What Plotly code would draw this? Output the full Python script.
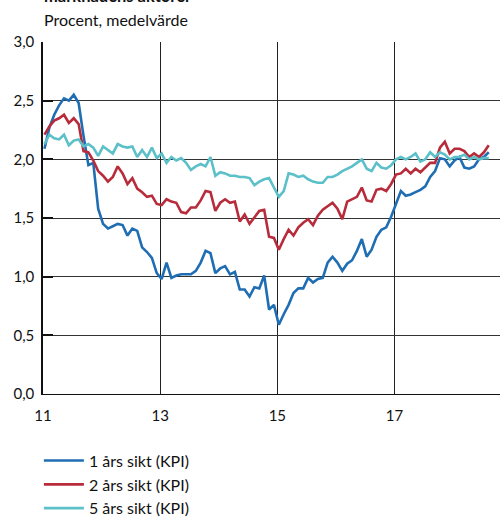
import plotly.graph_objects as go

# Monthly observations, Jan 2011 onwards (index k -> year 11 + (k+0.3)/12)
one_year = [2.09, 2.27, 2.38, 2.46, 2.52, 2.50, 2.55, 2.48, 2.20, 1.95,
            1.97, 1.58, 1.45, 1.41, 1.43, 1.45, 1.44, 1.35, 1.41, 1.39,
            1.25, 1.21, 1.16, 1.03, 0.98, 1.12, 0.99, 1.01, 1.02, 1.02,
            1.02, 1.05, 1.12, 1.22, 1.20, 1.03, 1.07, 1.09, 1.02, 1.04,
            0.89, 0.89, 0.83, 0.91, 0.90, 1.01, 0.72, 0.76, 0.59, 0.68,
            0.76, 0.86, 0.90, 0.90, 0.99, 0.95, 0.98, 0.99, 1.12, 1.17,
            1.12, 1.05, 1.11, 1.14, 1.22, 1.32, 1.17, 1.23, 1.34, 1.40,
            1.42, 1.51, 1.62, 1.73, 1.69, 1.70, 1.72, 1.74, 1.77, 1.85,
            1.90, 2.01, 2.00, 1.94, 1.99, 2.02, 1.93, 1.92, 1.94, 2.00,
            2.02, 2.06]
two_year = [2.21, 2.28, 2.33, 2.35, 2.38, 2.31, 2.35, 2.30, 2.07, 2.06,
            1.99, 1.90, 1.86, 1.81, 1.85, 1.94, 1.88, 1.79, 1.84, 1.75,
            1.72, 1.68, 1.69, 1.62, 1.61, 1.66, 1.64, 1.63, 1.55, 1.54,
            1.59, 1.59, 1.65, 1.73, 1.72, 1.56, 1.63, 1.66, 1.63, 1.64,
            1.47, 1.53, 1.45, 1.51, 1.56, 1.57, 1.34, 1.33, 1.23, 1.32,
            1.40, 1.35, 1.42, 1.46, 1.49, 1.44, 1.52, 1.57, 1.60, 1.63,
            1.58, 1.49, 1.64, 1.66, 1.68, 1.76, 1.65, 1.64, 1.74, 1.75,
            1.73, 1.79, 1.87, 1.88, 1.92, 1.88, 1.92, 1.89, 1.93, 1.97,
            1.97, 2.10, 2.15, 2.05, 2.09, 2.09, 2.07, 2.02, 2.05, 2.02,
            2.06, 2.12]
five_year = [2.13, 2.21, 2.18, 2.17, 2.21, 2.12, 2.16, 2.17, 2.11, 2.13,
             2.10, 2.03, 2.11, 2.08, 2.05, 2.13, 2.11, 2.10, 2.11, 2.02,
             2.08, 2.02, 2.10, 2.01, 2.05, 1.97, 2.02, 1.99, 2.01, 1.97,
             1.91, 1.94, 1.96, 1.94, 2.02, 1.86, 1.89, 1.88, 1.86, 1.86,
             1.85, 1.85, 1.84, 1.78, 1.81, 1.83, 1.84, 1.76, 1.68, 1.73,
             1.88, 1.87, 1.85, 1.86, 1.83, 1.81, 1.80, 1.80, 1.85, 1.85,
             1.87, 1.90, 1.92, 1.94, 1.97, 2.00, 1.92, 1.90, 1.97, 1.93,
             1.92, 1.95, 2.00, 2.02, 2.00, 2.02, 2.05, 1.98, 2.00, 2.06,
             2.02, 2.06, 2.04, 2.00, 2.02, 2.02, 2.04, 2.00, 2.02, 2.00,
             2.01, 2.01]

months = [11 + (k + 0.3) / 12 for k in range(len(one_year))]

series_names = ["1 års sikt (KPI)", "2 års sikt (KPI)", "5 års sikt (KPI)"]
series_colors = ["#1f6db3", "#b82b3b", "#5cc0c9"]
x_ticks = [11, 13, 15, 17]
x_tick_labels = ["11", "13", "15", "17"]
y_ticks = [0, 0.5, 1.0, 1.5, 2.0, 2.5, 3.0]

FONT = "Lato"

fig = go.Figure()
for name, vals, col in zip(series_names, [one_year, two_year, five_year], series_colors):
    fig.add_trace(go.Scatter(x=months, y=vals, mode="lines", name=name,
                             line=dict(color=col, width=2.6)))

fig.update_layout(
    width=501, height=519,
    margin=dict(l=43, r=1, t=42, b=125, autoexpand=False),
    paper_bgcolor="white", plot_bgcolor="white",
    separators=",.",
    font=dict(family=FONT, size=15, color="#111"),
    showlegend=True,
    legend=dict(x=-0.009, y=-0.141, xanchor="left", yanchor="top",
                font=dict(family=FONT, size=16, color="#111"),
                itemwidth=40, bgcolor="rgba(0,0,0,0)"),
    annotations=[
        dict(text="<b>marknadens aktörer</b>", xref="paper", yref="paper",
             x=-0.003, y=1.131, xanchor="left", yanchor="middle", showarrow=False,
             font=dict(family=FONT, size=16.5, color="#111")),
        dict(text="Procent, medelvärde", xref="paper", yref="paper",
             x=-0.003, y=1.064, xanchor="left", yanchor="middle", showarrow=False,
             font=dict(family=FONT, size=16, color="#111")),
    ],
)
fig.update_xaxes(range=[11, 18.8], tickvals=x_ticks, ticktext=x_tick_labels,
                 showgrid=True, gridcolor="#222", gridwidth=1,
                 showline=True, linecolor="#111", linewidth=1,
                 ticks="", ticklabelstandoff=8, zeroline=False, automargin=False,
                 tickfont=dict(family=FONT, size=15, color="#111"))
fig.update_yaxes(range=[0, 3.0], tickvals=y_ticks, tickformat=".1f",
                 showgrid=True, gridcolor="#333", gridwidth=1,
                 showline=True, linecolor="#111", linewidth=1.5,
                 ticks="inside", ticklen=10, tickwidth=1.5, tickcolor="#111",
                 ticklabelstandoff=4, zeroline=False, automargin=False,
                 tickfont=dict(family=FONT, size=15, color="#111"))

fig.write_html("out.html",
               config={"displayModeBar": False},
               post_script="document.body.style.margin='0';"
                           "document.body.style.overflow='hidden';")
